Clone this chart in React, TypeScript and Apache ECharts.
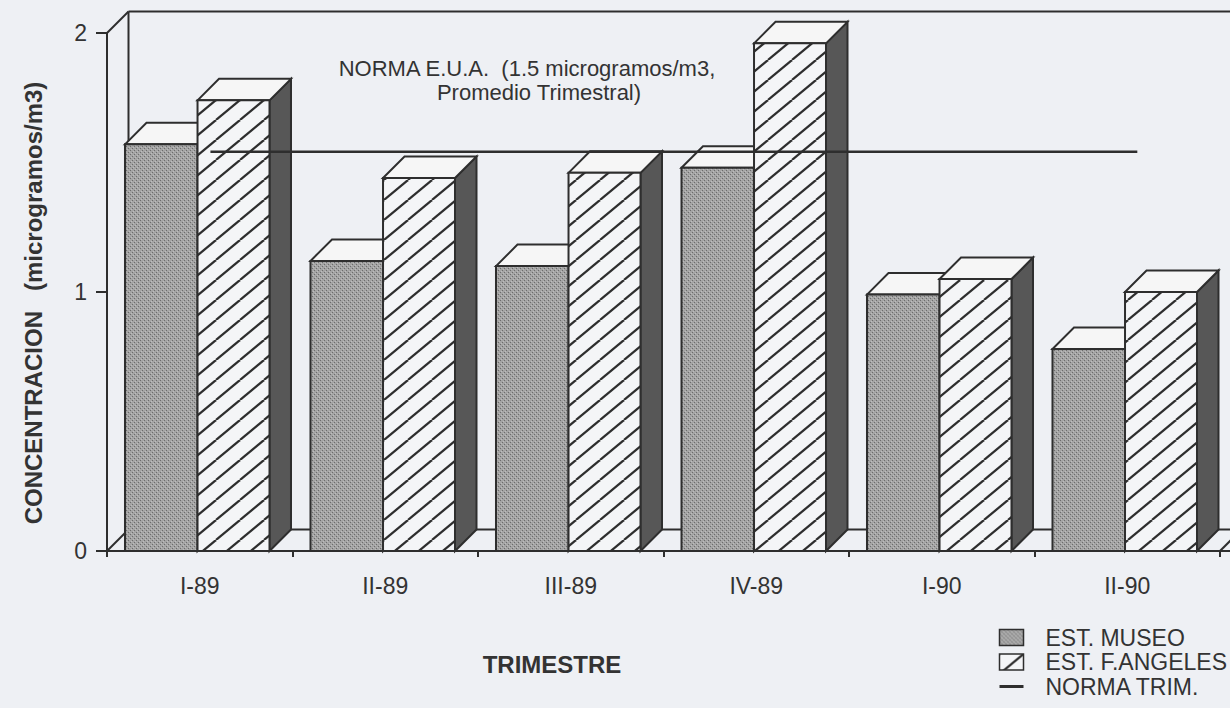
import React, { useEffect, useRef } from 'react';
import * as echarts from 'echarts';

// ---- data ----
const CATEGORIES = ['I-89', 'II-89', 'III-89', 'IV-89', 'I-90', 'II-90'];
const MUSEO = [1.57, 1.12, 1.1, 1.48, 0.99, 0.78];
const ANGELES = [1.74, 1.44, 1.46, 1.96, 1.05, 1.0];
const NORMA = [1.5, 1.5, 1.5, 1.5, 1.5, 1.5];
const Y_MIN = 0;
const Y_MAX = 2;
const Y_INTERVAL = 1;
const SERIES_NAMES = ['EST. MUSEO', 'EST. F.ANGELES', 'NORMA TRIM.'];

// ---- style ----
const FONT = "'Liberation Sans', Arial, Helvetica, sans-serif";
const INK = '#2e2e2e';
const BG = '#eef0f4';
const TOP_FILL = '#f6f6f6';
const SIDE_FILL = '#575757';
const DEPTH = 21.5;

function makeDotPattern(): any {
  const c = document.createElement('canvas');
  c.width = 4;
  c.height = 4;
  const g = c.getContext('2d')!;
  g.fillStyle = '#a4a4a4';
  g.fillRect(0, 0, 4, 4);
  g.fillStyle = '#6c6c6c';
  g.fillRect(0, 0, 1, 1);
  g.fillRect(2, 2, 1, 1);
  g.fillStyle = '#bdbdbd';
  g.fillRect(1, 3, 1, 1);
  g.fillRect(3, 1, 1, 1);
  return { image: c, repeat: 'repeat' };
}

function makeHatchPattern(): any {
  const w = 24;
  const h = 20;
  const c = document.createElement('canvas');
  c.width = w;
  c.height = h;
  const g = c.getContext('2d')!;
  g.fillStyle = '#f4f5f7';
  g.fillRect(0, 0, w, h);
  g.strokeStyle = INK;
  g.lineWidth = 2.2;
  for (const k of [-1, 0, 1]) {
    g.beginPath();
    g.moveTo(k * w, h);
    g.lineTo(k * w + w, 0);
    g.stroke();
  }
  return { image: c, repeat: 'repeat' };
}

export default function App() {
  const ref = useRef<HTMLDivElement>(null);

  useEffect(() => {
    if (!ref.current) return;
    const chart = echarts.init(ref.current, undefined, { renderer: 'svg' });
    const dots = makeDotPattern();
    const hatch = makeHatchPattern();

    const barRenderer = (station: number) => (params: any, api: any) => {
      const idx = api.value(0);
      const val = api.value(1);
      const [cx, yTop] = api.coord([idx, val]);
      const yBase = api.coord([idx, 0])[1];
      const w = api.size([1, 0])[0];
      const mL = cx - 0.403 * w;
      const sp = cx - 0.012 * w;
      const aR = cx + 0.376 * w;
      const x0 = station === 0 ? mL : sp;
      const x1 = station === 0 ? sp : aR;
      const d = DEPTH;
      const stroke = { stroke: INK, lineWidth: 2, lineJoin: 'miter' };
      return {
        type: 'group',
        children: [
          {
            type: 'polygon',
            shape: { points: [[x1, yTop], [x1 + d, yTop - d], [x1 + d, yBase - d], [x1, yBase]] },
            style: { fill: SIDE_FILL, ...stroke },
          },
          {
            type: 'polygon',
            shape: { points: [[x0, yTop], [x0 + d, yTop - d], [x1 + d, yTop - d], [x1, yTop]] },
            style: { fill: TOP_FILL, ...stroke },
          },
          {
            type: 'rect',
            shape: { x: x0, y: yTop, width: x1 - x0, height: yBase - yTop },
            style: { fill: station === 0 ? dots : hatch, ...stroke },
          },
        ],
      };
    };

    const frameRenderer = (params: any, api: any) => {
      const n = CATEGORIES.length;
      const w = api.size([1, 0])[0];
      const first = api.coord([0, Y_MIN]);
      const last = api.coord([n - 1, Y_MIN]);
      const yTop = api.coord([0, Y_MAX])[1];
      const x0 = first[0] - w / 2;
      const x1 = last[0] + w / 2;
      const y0 = first[1];
      const d = DEPTH;
      const ls = { stroke: INK, lineWidth: 2 };
      const seg = (a: number[], b: number[]) => ({
        type: 'line',
        shape: { x1: a[0], y1: a[1], x2: b[0], y2: b[1] },
        style: ls,
      });
      return {
        type: 'group',
        children: [
          seg([x0 + d, yTop - d], [x1 + d + 40, yTop - d]),
          seg([x0 + d, yTop - d], [x0 + d, y0 - d]),
          seg([x0, yTop], [x0 + d, yTop - d]),
          seg([x0, y0], [x0 + d, y0 - d]),
          seg([x0 + d, y0 - d], [x1 + d + 40, y0 - d]),
          seg([x1, y0], [x1 + d, y0 - d]),
          seg([x1, y0], [x1 + 40, y0]),
        ],
      };
    };

    const axisText = { color: '#333', fontFamily: FONT, fontSize: 23 };

    chart.setOption({
      animation: false,
      backgroundColor: BG,
      textStyle: { fontFamily: FONT },
      grid: [
        { left: 107, right: 10, top: 33, bottom: 157 },
        { left: 107 + DEPTH / 2, right: 10 - DEPTH / 2, top: 33 - DEPTH / 2, bottom: 157 + DEPTH / 2 },
      ],
      xAxis: [
        {
          type: 'category',
          gridIndex: 0,
          data: CATEGORIES,
          axisLine: { lineStyle: { color: INK, width: 2 } },
          axisTick: { show: true, length: 6, lineStyle: { color: INK, width: 2 } },
          axisLabel: { ...axisText, margin: 23 },
        },
        {
          type: 'category',
          gridIndex: 1,
          data: CATEGORIES,
          show: false,
        },
      ],
      yAxis: [
        {
          type: 'value',
          gridIndex: 0,
          min: Y_MIN,
          max: Y_MAX,
          interval: Y_INTERVAL,
          axisLine: { show: true, lineStyle: { color: INK, width: 2 } },
          axisTick: { show: true, length: 11, lineStyle: { color: INK, width: 2 } },
          axisLabel: { ...axisText, margin: 20 },
          splitLine: { show: false },
        },
        {
          type: 'value',
          gridIndex: 1,
          min: Y_MIN,
          max: Y_MAX,
          interval: Y_INTERVAL,
          show: false,
        },
      ],
      legend: {
        orient: 'vertical',
        left: 993,
        top: 621,
        itemWidth: 24,
        itemHeight: 16,
        itemGap: 1.5,
        selectedMode: false,
        textStyle: { ...axisText, padding: [0, 0, 0, 17] },
        data: [
          { name: SERIES_NAMES[0], icon: 'rect', itemStyle: { color: dots, borderColor: INK, borderWidth: 1.5 } },
          { name: SERIES_NAMES[1], icon: 'rect', itemStyle: { color: hatch, borderColor: INK, borderWidth: 1.5 } },
          {
            name: SERIES_NAMES[2],
            itemStyle: { color: 'rgba(0,0,0,0)', borderColor: 'rgba(0,0,0,0)', borderWidth: 0 },
            lineStyle: { color: INK, width: 3 },
          },
        ],
      },
      series: [
        {
          type: 'custom',
          name: 'frame',
          xAxisIndex: 0,
          yAxisIndex: 0,
          z: 1,
          silent: true,
          renderItem: frameRenderer,
          data: [[0, Y_MIN]],
          encode: { x: 0, y: 1 },
        },
        {
          type: 'custom',
          name: SERIES_NAMES[0],
          xAxisIndex: 0,
          yAxisIndex: 0,
          z: 2,
          itemStyle: { color: '#9c9c9c' },
          renderItem: barRenderer(0),
          data: MUSEO.map((v, i) => [i, v]),
          encode: { x: 0, y: 1 },
        },
        {
          type: 'custom',
          name: SERIES_NAMES[1],
          xAxisIndex: 0,
          yAxisIndex: 0,
          z: 3,
          itemStyle: { color: '#f4f5f7' },
          renderItem: barRenderer(1),
          data: ANGELES.map((v, i) => [i, v]),
          encode: { x: 0, y: 1 },
        },
        {
          type: 'line',
          name: SERIES_NAMES[2],
          xAxisIndex: 1,
          yAxisIndex: 1,
          z: 5,
          data: NORMA,
          symbol: 'none',
          itemStyle: { color: INK },
          lineStyle: { color: INK, width: 2.5 },
        },
      ],
      graphic: [
        {
          type: 'text',
          x: 527,
          y: 68,
          style: {
            text: 'NORMA E.U.A.  (1.5 microgramos/m3,',
            font: `22px ${FONT}`,
            lineHeight: 22,
            fill: '#333',
            align: 'center',
            verticalAlign: 'middle',
          },
        },
        {
          type: 'text',
          x: 539,
          y: 92,
          style: {
            text: 'Promedio Trimestral)',
            font: `22px ${FONT}`,
            lineHeight: 22,
            fill: '#333',
            align: 'center',
            verticalAlign: 'middle',
          },
        },
        {
          type: 'text',
          x: 552,
          y: 664,
          style: {
            text: 'TRIMESTRE',
            font: `bold 24px ${FONT}`,
            fill: '#333',
            align: 'center',
            verticalAlign: 'middle',
          },
        },
        {
          type: 'text',
          x: 33,
          y: 303,
          rotation: Math.PI / 2,
          style: {
            text: 'CONCENTRACION   (microgramos/m3)',
            font: `bold 24px ${FONT}`,
            fill: '#333',
            align: 'center',
            verticalAlign: 'middle',
          },
        },
      ],
    });

    return () => chart.dispose();
  }, []);

  return (
    <div
      ref={ref}
      style={{ position: 'fixed', left: 0, top: 0, width: 1230, height: 708, background: BG }}
    />
  );
}
